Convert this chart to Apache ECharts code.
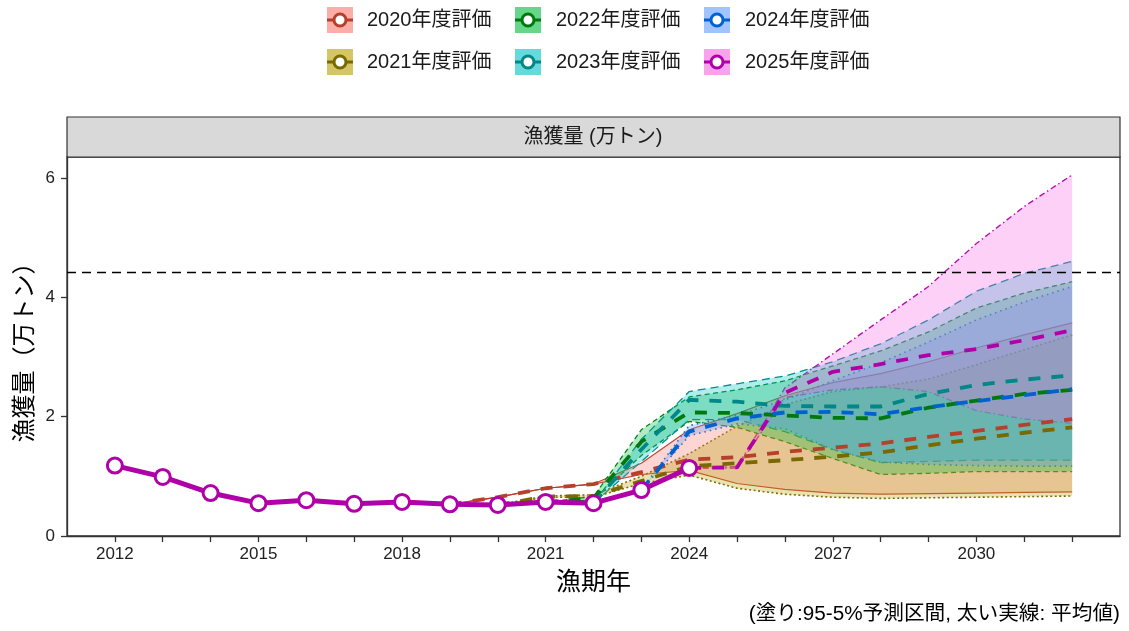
<!DOCTYPE html>
<html>
<head>
<meta charset="utf-8">
<script src="https://cdn.jsdelivr.net/npm/echarts@6/dist/echarts.min.js"></script>
<style>
html,body{margin:0;padding:0;background:#fff}
#chart{width:1129px;height:631px}
</style>
</head>
<body>
<div id="chart"></div>
<script>
// ---- data (万トン) ----
const assessments = ['2020年度評価','2021年度評価','2022年度評価','2023年度評価','2024年度評価','2025年度評価'];

const histYears = [2012,2013,2014,2015,2016,2017,2018,2019,2020,2021,2022,2023,2024];
const histCatch2025 = [1.18,0.99,0.72,0.55,0.60,0.54,0.57,0.53,0.52,0.57,0.55,0.77,1.14];

const projYears2020 = [2019,2020,2021,2022,2023,2024,2025,2026,2027,2028,2029,2030,2031,2032];
const mean2020  = [0.53,0.65,0.80,0.87,1.07,1.28,1.32,1.41,1.48,1.55,1.66,1.76,1.86,1.96];
const upper2020 = [0.53,0.65,0.80,0.87,1.22,1.78,2.05,2.35,2.57,2.72,2.92,3.15,3.37,3.57];
const lower2020 = [0.53,0.65,0.80,0.87,1.03,1.10,0.88,0.78,0.72,0.70,0.71,0.72,0.73,0.74];

const projYears2021 = [2020,2021,2022,2023,2024,2025,2026,2027,2028,2029,2030,2031,2032];
const mean2021  = [0.52,0.66,0.67,0.92,1.17,1.22,1.27,1.33,1.40,1.52,1.63,1.73,1.82];
const upper2021 = [0.52,0.67,0.69,1.00,1.38,1.84,2.20,2.42,2.50,2.63,2.87,3.12,3.37];
const lower2021 = [0.52,0.65,0.65,0.88,1.02,0.80,0.70,0.65,0.63,0.64,0.65,0.66,0.67];

const projYears2022 = [2021,2022,2023,2024,2025,2026,2027,2028,2029,2030,2031,2032];
const mean2022  = [0.57,0.63,1.58,2.07,2.06,2.02,1.98,1.97,2.15,2.27,2.38,2.45];
const upper2022 = [0.57,0.66,1.78,2.33,2.45,2.60,2.85,3.10,3.42,3.82,4.07,4.26];
const lower2022 = [0.57,0.60,1.35,1.92,1.82,1.58,1.30,1.03,1.05,1.08,1.08,1.08];

const projYears2023 = [2022,2023,2024,2025,2026,2027,2028,2029,2030,2031,2032];
const mean2023  = [0.55,1.45,2.28,2.25,2.18,2.17,2.17,2.38,2.53,2.62,2.69];
const upper2023 = [0.55,1.62,2.42,2.55,2.68,2.92,3.22,3.62,4.10,4.40,4.60];
const lower2023 = [0.55,1.25,1.95,1.95,1.75,1.45,1.23,1.25,1.27,1.27,1.27];

const projYears2024 = [2023,2024,2025,2026,2027,2028,2029,2030,2031,2032];
const mean2024  = [0.77,1.75,1.97,2.07,2.08,2.04,2.16,2.26,2.36,2.46];
const upper2024 = [0.77,1.85,2.02,2.28,2.60,2.90,3.25,3.62,3.92,4.18];
const lower2024 = [0.77,1.68,1.88,1.80,1.45,1.24,1.20,1.18,1.17,1.17];

const projYears2025 = [2024,2025,2026,2027,2028,2029,2030,2031,2032];
const mean2025  = [1.14,1.15,2.40,2.75,2.88,3.03,3.13,3.28,3.45];
const upper2025 = [1.14,1.16,2.48,3.05,3.62,4.18,4.90,5.52,6.05];
const lower2025 = [1.14,1.14,2.32,2.45,2.50,2.42,2.10,1.96,1.89];

const targetLine = 4.42;

const xTickYears = [2012,2013,2014,2015,2016,2017,2018,2019,2020,2021,2022,2023,2024,2025,2026,2027,2028,2029,2030,2031,2032];
const xLabelYears = [2012,2015,2018,2021,2024,2027,2030];
const yTicks = [0,2,4,6];

// ---- styles ----
const FONT = '"Liberation Sans", Arial, "Noto Sans CJK JP", sans-serif';
const CJK = '"Noto Sans CJK JP", "Liberation Sans", sans-serif';
const lineColors = ['#B5402B','#7A6800','#007A10','#008787','#0062D0','#B000A8'];
const fillColors = ['#F8766D','#B79F00','#00BA38','#00BFC4','#619CFF','#F564E3'];
const boundDash  = ['solid',[2,2.5],[5,3.5],[8,5],[1.5,4],[6,3,1.5,3]];
const boundWidth = [1.2,1.6,1.3,1.3,1.7,1.4];

function rgba(hex, a) {
  const n = parseInt(hex.slice(1), 16);
  return 'rgba(' + (n >> 16 & 255) + ',' + (n >> 8 & 255) + ',' + (n & 255) + ',' + a + ')';
}
function zip(xs, ys) { return xs.map((x, i) => [x, ys[i]]); }

const runs = [
  {years: projYears2020, mean: mean2020, upper: upper2020, lower: lower2020},
  {years: projYears2021, mean: mean2021, upper: upper2021, lower: lower2021},
  {years: projYears2022, mean: mean2022, upper: upper2022, lower: lower2022},
  {years: projYears2023, mean: mean2023, upper: upper2023, lower: lower2023},
  {years: projYears2024, mean: mean2024, upper: upper2024, lower: lower2024},
  {years: projYears2025, mean: mean2025, upper: upper2025, lower: lower2025}
];

const series = [];

// 95% / 5% bounds, drawn beneath the ribbons
runs.forEach((r, k) => {
  ['upper', 'lower'].forEach(key => {
    series.push({
      type: 'line', name: assessments[k] + key, data: zip(r.years, r[key]),
      symbol: 'none', silent: true, z: 1,
      lineStyle: {color: lineColors[k], width: boundWidth[k], type: boundDash[k], cap: 'butt'}
    });
  });
});

// prediction-interval ribbons
runs.forEach((r, k) => {
  series.push({
    type: 'custom', name: assessments[k] + 'band', silent: true, z: 2, clip: true,
    data: [[r.years[0], r.lower[0]]],
    renderItem: function (params, api) {
      const pts = [];
      for (let i = 0; i < r.years.length; i++) pts.push(api.coord([r.years[i], r.upper[i]]));
      for (let i = r.years.length - 1; i >= 0; i--) pts.push(api.coord([r.years[i], r.lower[i]]));
      return {type: 'polygon', shape: {points: pts}, style: {fill: rgba(fillColors[k], 0.3), stroke: 'none'}};
    }
  });
});

// projected means
runs.forEach((r, k) => {
  series.push({
    type: 'line', name: assessments[k], data: zip(r.years, r.mean),
    symbol: 'none', silent: true, z: 3,
    lineStyle: {color: lineColors[k], width: 3.8, type: [12, 11], cap: 'butt'}
  });
});

// observed catch (2025 assessment)
series.push({
  type: 'line', name: '2025年度評価実績', data: zip(histYears, histCatch2025),
  symbol: 'circle', symbolSize: 15, showAllSymbol: true, silent: true, z: 5,
  lineStyle: {color: lineColors[5], width: 5},
  itemStyle: {color: '#ffffff', borderColor: lineColors[5], borderWidth: 3},
  markLine: {
    silent: true, symbol: 'none', label: {show: false},
    lineStyle: {color: '#000', width: 1.4, type: [9, 6]},
    data: [{yAxis: targetLine}]
  }
});

// legend (two rows x three columns)
const legendKeyX = [327, 515, 704];
const legendTextX = [367, 556, 745];
const legendRowY = [20, 62];
const graphics = [];
assessments.forEach((name, i) => {
  const col = Math.floor(i / 2), row = i % 2;
  const kx = legendKeyX[col], cy = legendRowY[row];
  graphics.push(
    {type: 'rect', shape: {x: kx, y: cy - 13, width: 26, height: 26}, style: {fill: rgba(fillColors[i], 0.6)}},
    {type: 'line', shape: {x1: kx, y1: cy, x2: kx + 26, y2: cy}, style: {stroke: lineColors[i], lineWidth: 3}},
    {type: 'circle', shape: {cx: kx + 13, cy: cy, r: 6}, style: {fill: '#fff', stroke: lineColors[i], lineWidth: 3}},
    {type: 'text', x: legendTextX[col], y: cy, style: {text: name, fill: '#1a1a1a', fontSize: 20, fontFamily: FONT, verticalAlign: 'middle', align: 'left'}}
  );
});
// facet strip and caption
graphics.push(
  {type: 'rect', shape: {x: 67, y: 117, width: 1053, height: 40}, style: {fill: '#D9D9D9', stroke: '#333', lineWidth: 1.2}},
  {type: 'text', x: 593, y: 137, style: {text: '漁獲量 (万トン)', fill: '#1a1a1a', fontSize: 20, fontFamily: FONT, align: 'center', verticalAlign: 'middle'}},
  {type: 'text', x: 1120, y: 614, style: {text: '(塗り:95-5%予測区間, 太い実線: 平均値)', fill: '#000', fontSize: 20.7, fontFamily: FONT, align: 'right', verticalAlign: 'middle'}}
);

const chart = echarts.init(document.getElementById('chart'), null, {renderer: 'canvas'});
chart.setOption({
  animation: false,
  backgroundColor: '#fff',
  grid: {left: 67, right: 9, top: 157, bottom: 95, show: true, borderColor: '#333', borderWidth: 1.3, backgroundColor: '#fff'},
  xAxis: {
    type: 'value', min: 2011, max: 2033, interval: 1,
    name: '漁期年', nameLocation: 'middle', nameGap: 29,
    nameTextStyle: {fontSize: 25, fontFamily: CJK, color: '#000'},
    axisLine: {show: true, lineStyle: {color: '#333', width: 1.3}},
    axisTick: {show: true, length: 6, lineStyle: {color: '#333', width: 1.3}, customValues: xTickYears},
    axisLabel: {fontSize: 17, fontFamily: FONT, color: '#222', margin: 10, customValues: xLabelYears, formatter: v => String(v)},
    splitLine: {show: false}
  },
  yAxis: {
    type: 'value', min: 0, max: 6.35,
    name: '漁獲量（万トン）', nameLocation: 'middle', nameGap: 30, nameRotate: 90,
    nameTextStyle: {fontSize: 24, fontFamily: CJK, color: '#000'},
    axisLine: {show: true, lineStyle: {color: '#333', width: 1.3}},
    axisTick: {show: true, length: 6, lineStyle: {color: '#333', width: 1.3}, customValues: yTicks},
    axisLabel: {fontSize: 17, fontFamily: FONT, color: '#222', margin: 12, customValues: yTicks, formatter: v => String(v)},
    splitLine: {show: false}
  },
  series: series,
  graphic: graphics
});
</script>
</body>
</html>
